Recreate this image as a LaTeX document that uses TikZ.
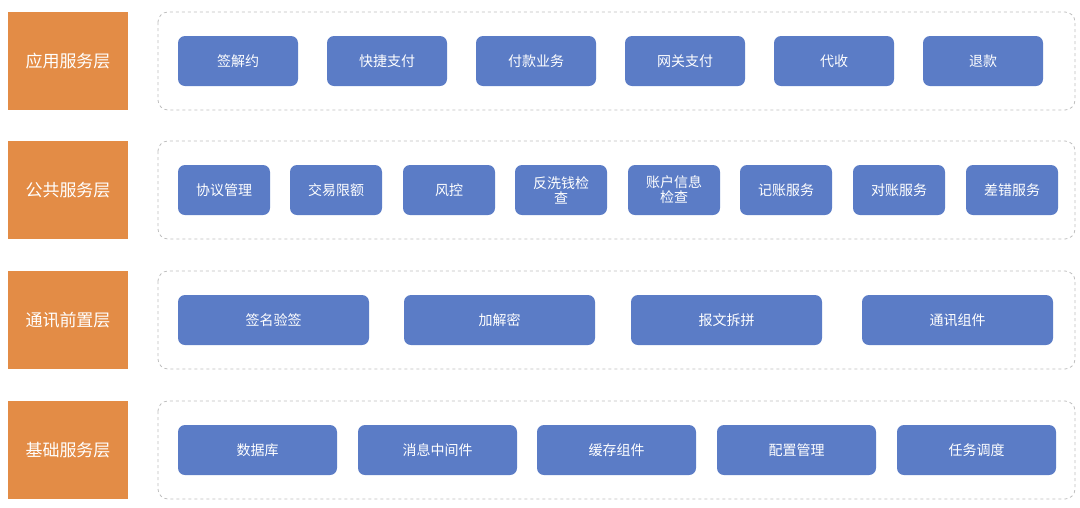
\documentclass[tikz,border=0pt]{standalone}
\usepackage{fontspec}
\setmainfont{Noto Sans CJK SC}
\begin{document}
\begin{tikzpicture}[x=1pt,y=-1pt,
    layer/.style={fill=orange!80!brown!70,draw=none,text=white,font=\fontsize{17}{20}\selectfont},
    frame/.style={draw=gray!50,dashed,rounded corners=10pt,line width=0.8pt},
    item/.style={fill=itemblue,rounded corners=7pt,text=white,align=center,font=\fontsize{14}{15}\selectfont}]
\definecolor{itemblue}{HTML}{5B7CC6}
\definecolor{layerorange}{HTML}{E38C46}
\useasboundingbox (0,0) rectangle (1080,507);
% layers
\foreach \y/\t [count=\i] in {12/应用服务层,141/公共服务层,271/通讯前置层,401/基础服务层}{
  \fill[layerorange] (8,\y) rectangle ++(120,98);
  \node[text=white,font=\fontsize{17}{20}\selectfont] (layer\i) at (68,\y+49) {\t};
  \draw[frame] (158,\y) rectangle ++(917,98);
}
% row 1
\foreach \x/\t [count=\i] in {178/签解约,327/快捷支付,476/付款业务,625/网关支付,774/代收,923/退款}
  \node[item,minimum width=120pt,minimum height=50pt] (app\i) at (\x+60,61) {\t};
% row 2
\foreach \x/\t [count=\i] in {178/协议管理,290/交易限额,403/风控,515/反洗钱检\\查,628/账户信息\\检查,740/记账服务,853/对账服务,966/差错服务}
  \node[item,minimum width=92pt,minimum height=50pt,inner sep=1pt] (pub\i) at (\x+46,190) {\t};
% row 3
\foreach \x/\t [count=\i] in {178/签名验签,404/加解密,631/报文拆拼,862/通讯组件}
  \node[item,minimum width=191pt,minimum height=50pt] (com\i) at (\x+95.5,320) {\t};
% row 4
\foreach \x/\t [count=\i] in {178/数据库,358/消息中间件,537/缓存组件,717/配置管理,897/任务调度}
  \node[item,minimum width=159pt,minimum height=50pt] (base\i) at (\x+79.5,450) {\t};
\end{tikzpicture}
\end{document}
